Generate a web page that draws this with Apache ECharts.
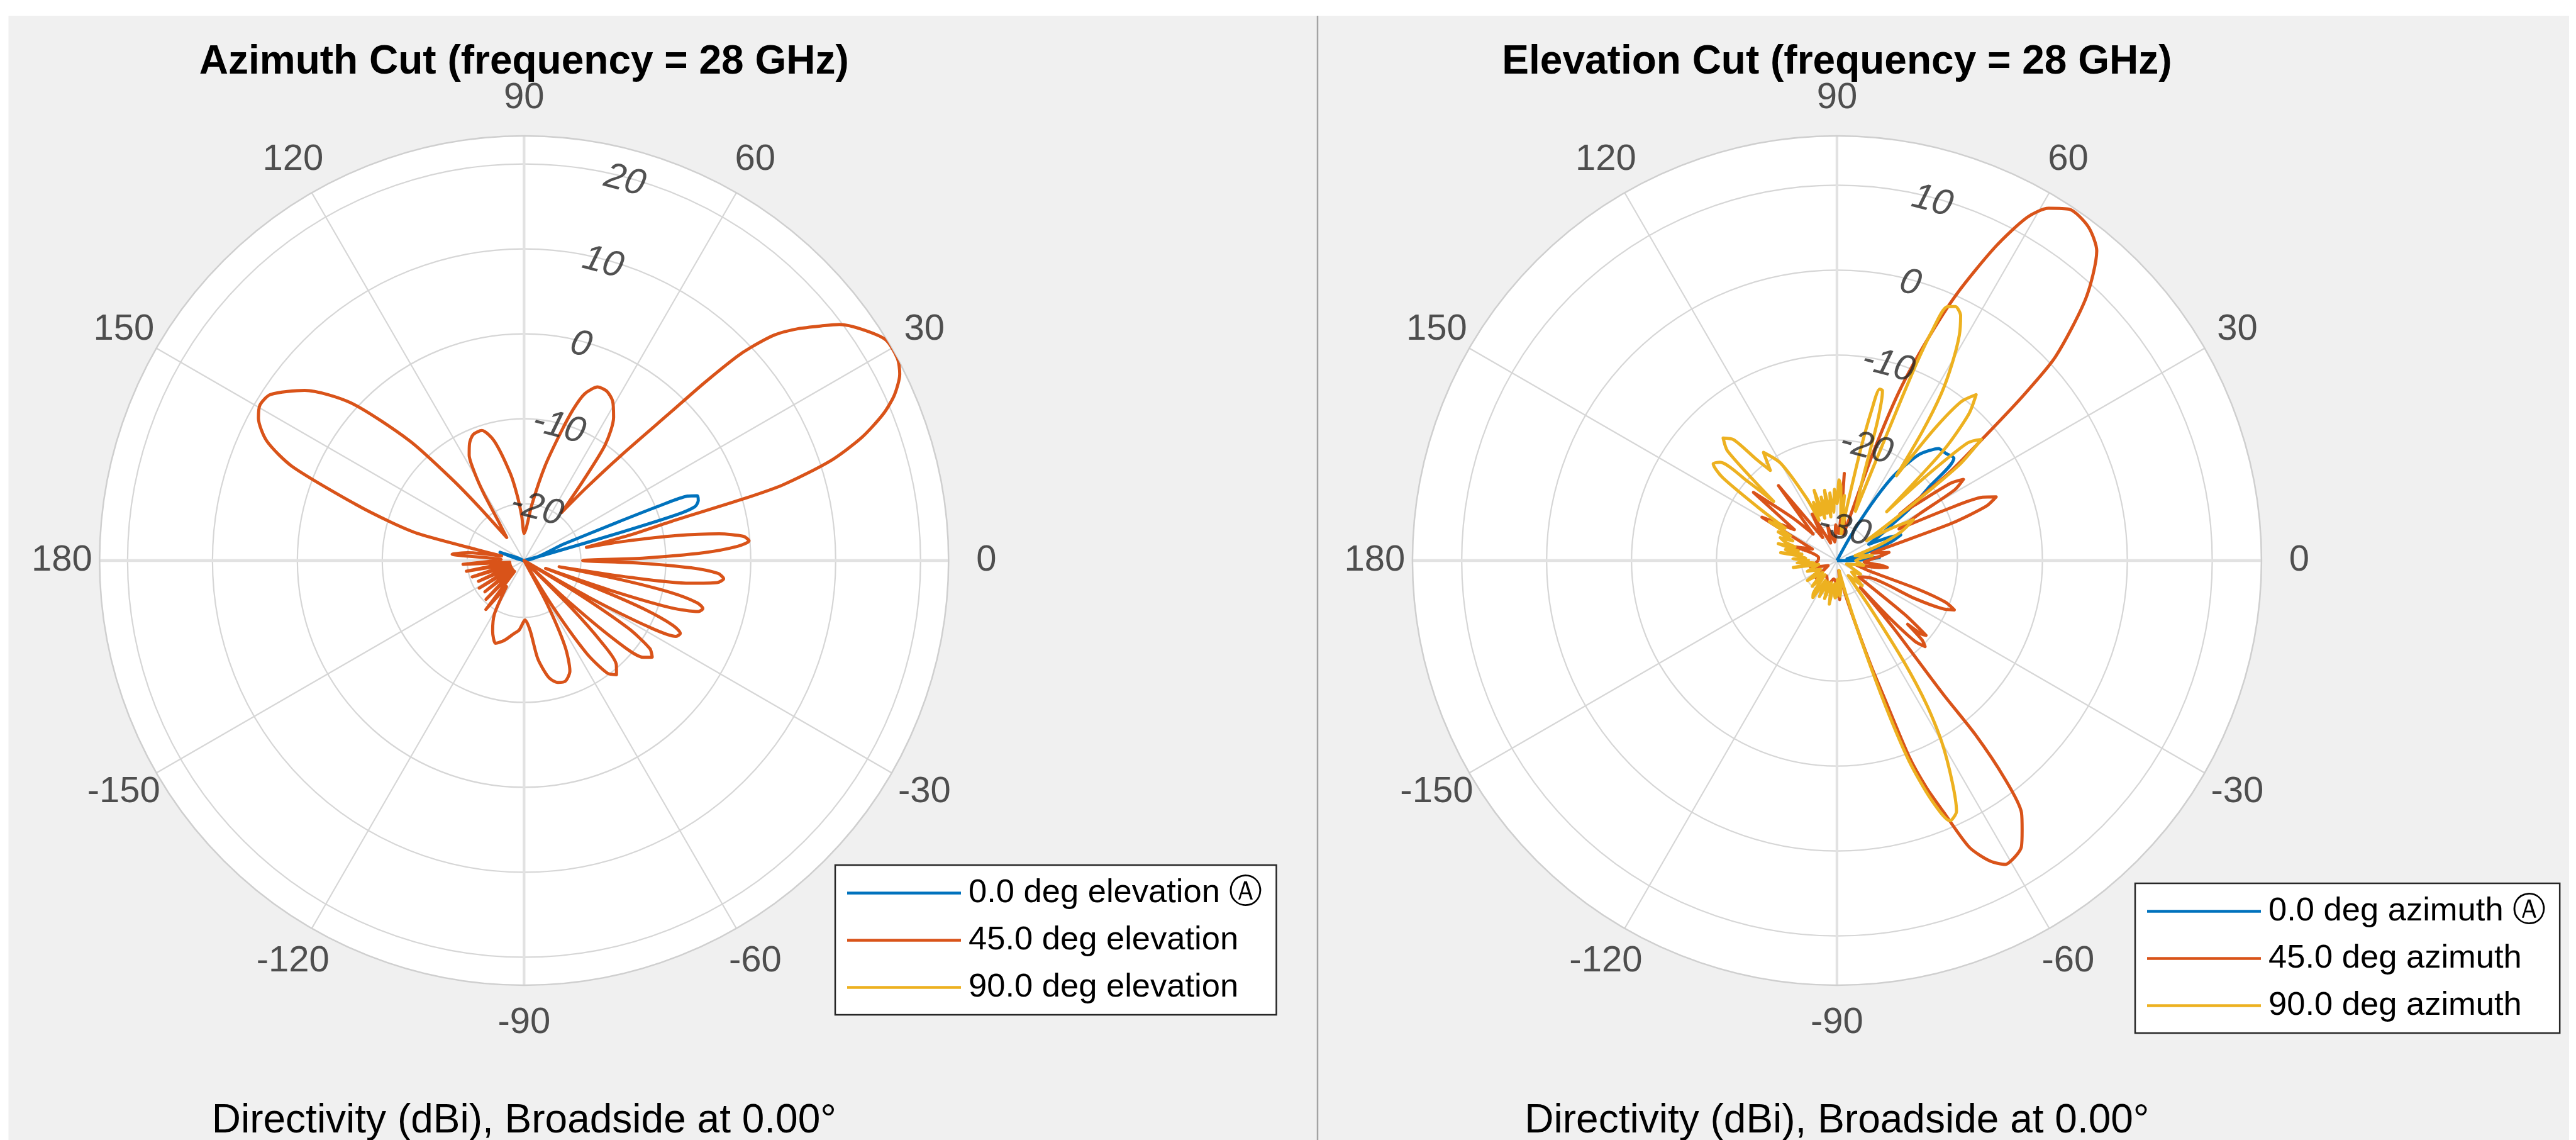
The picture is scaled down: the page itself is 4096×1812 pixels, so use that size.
<!DOCTYPE html>
<html>
<head>
<meta charset="utf-8">
<title>Directivity cuts at 28 GHz</title>
<script src="https://cdn.jsdelivr.net/npm/echarts@6.0.0/dist/echarts.min.js"></script>
<style>
  html, body { margin: 0; padding: 0; background: #ffffff; }
  #chart { width: 4096px; height: 1812px; }
</style>
</head>
<body>
<div id="chart"></div>
<script>
// ---- tick labels -------------------------------------------------------
const angleTicks = [0, 30, 60, 90, 120, 150, 180, -150, -120, -90, -60, -30];
const azRingTicks = [-20, -10, 0, 10, 20];
const elRingTicks = [-30, -20, -10, 0, 10];

// magnitude limits of each plot (dBi)
const azLimits = [-26.7, 23.3];
const elLimits = [-34.2, 15.8];

// ---- series names ------------------------------------------------------
const azNames = ['0.0 deg elevation', '45.0 deg elevation', '90.0 deg elevation'];
const elNames = ['0.0 deg azimuth', '45.0 deg azimuth', '90.0 deg azimuth'];

// ---- azimuth cut: [angle (deg), directivity (dBi)] ----------------------
const az0 = [
  [-180, -30], [-120, -30], [-60, -30], [0, -30], [14, -30], [15.5, -24], [16.2, -15],
  [16.7, -8], [17.5, -5.6], [19, -5.0], [20.5, -4.9], [21.5, -6], [22, -9.5], [22.3, -15],
  [22.6, -21.5], [23.5, -30], [90, -30], [150, -30], [156, -26], [161, -23.7], [166, -26],
  [172, -30], [180, -30]
];
const az45 = [
  [-180, -23.5], [-176.5, -19.5], [-173, -25], [-169.5, -19.8], [-166, -25], [-162.5, -20.3],
  [-159, -25], [-155.5, -20.8], [-152, -25], [-148.5, -20.5], [-145, -25], [-141.5, -20.8],
  [-138, -25], [-134.5, -20.3], [-131, -25], [-128, -19.4], [-124, -23], [-119, -19.5],
  [-114, -17.6], [-109, -16.4], [-104, -17], [-98, -18], [-94, -18.5], [-89, -19.7],
  [-85, -18.4], [-82, -15], [-78, -12.6], [-74.5, -11.8], [-71, -11.7], [-67.5, -12.6],
  [-64.5, -15.5], [-62, -21], [-60, -28],
  [-58, -20], [-56, -13.5], [-53.5, -10.2], [-51, -9.4], [-48.5, -10.3], [-46.5, -13.5], [-45, -19], [-44, -28],
  [-42.5, -19], [-41, -12], [-39, -8.6], [-37, -7.8], [-35, -8.6], [-33, -12], [-31.5, -19], [-30.5, -28],
  [-29.5, -18], [-28, -10], [-26.5, -6.7], [-25, -6.4], [-23.5, -7.6], [-22, -11.5], [-21, -17], [-20, -24],
  [-19, -16], [-17.8, -8.5], [-16.3, -5.3], [-15, -4.9], [-13.7, -5.7], [-12.3, -9], [-11.2, -15], [-10, -22.5],
  [-9, -14], [-7.8, -7], [-6.5, -3.8], [-5.2, -3.1], [-3.8, -3.8], [-2.5, -7], [-1.3, -13], [0, -19.8],
  [1.2, -12.5], [2.5, -5.5], [3.8, -1.5], [5, -0.1], [6.3, -0.7], [7.8, -3.5], [9.3, -8.5], [10.8, -14.5], [12, -19.2],
  [13.5, -14], [14.9, -8.7], [15.7, 0.2], [16.3, 5.1], [18, 11.2], [20, 15.6], [22.2, 19.0], [24.1, 21.1],
  [26.4, 22.7], [28.4, 23.3], [31.4, 23.2], [34.4, 21.5], [36.8, 19.7], [38.2, 18.0], [40.2, 15.6], [42, 13],
  [43.2, 10], [43.8, 7.9], [44.6, 3], [45.3, -2], [47.3, -9.9], [49.5, -15.5], [52, -19.5],
  [53.5, -15], [55, -10], [58, -6.8], [61, -5.2], [64, -4.5], [67, -4.5], [70, -5.8], [72, -8], [74, -11],
  [77.5, -15.3], [82, -20], [86, -22.8], [90, -23.5],
  [93, -21.5], [96, -19], [99, -16.3], [104, -12.2], [108, -10.6], [112, -10.7], [115, -11.5], [117.5, -12.7],
  [119.5, -15], [121, -17.5], [123, -21], [127, -23.3],
  [130, -18.5], [131.5, -14], [133.7, -7.2], [137.7, 0.9], [142.2, 6.0], [146.8, 9.0], [149.5, 9.4], [151.8, 8.8],
  [155.1, 6.7], [157.9, 2.8], [161.5, -5.7], [164, -10.5], [165.8, -14], [167, -21], [168.5, -24],
  [172, -20], [175, -18.2], [177.5, -24], [180, -23.5]
];
const az90 = [[-180, -30], [-90, -30], [0, -30], [90, -30], [180, -30]];

// ---- elevation cut: [angle (deg), directivity (dBi)] --------------------
const el0 = [
  [-180, -36], [-120, -36], [-60, -36], [-10, -36], [0, -33], [2, -31], [4, -29.2], [6, -31],
  [10, -33], [16, -30], [19, -27.5], [21.9, -26.1], [24, -27.5], [27, -30], [30, -28.5],
  [33, -26.6], [36, -23], [38.6, -20.3], [41.2, -15.9], [44.4, -16.2], [47.8, -16.4], [50, -17.3],
  [52.2, -18.4], [54.5, -20.5], [56.6, -22.7], [58.6, -26.4], [61, -31], [65, -36], [120, -36], [180, -36]
];
const el45 = [
  [-180, -32], [-165, -31], [-150, -33], [-140, -31], [-125, -32], [-110, -31], [-100, -32],
  [-88, -31], [-86, -29.6], [-84, -31], [-80, -33], [-76, -30],
  [-73.5, -26], [-72, -21], [-71, -17.3], [-69.8, -9.6], [-68.5, -5.5], [-67, -2], [-65.2, 3],
  [-63, 5.5], [-61, 6.7], [-59, 6.5], [-57.2, 5.9], [-55.5, 4.3], [-53.8, 2.6], [-52.4, -1.9],
  [-51.5, -8], [-51.5, -14], [-51, -19], [-50, -24], [-49, -30],
  [-47.5, -25], [-46, -21], [-44.3, -19.7], [-43, -20.5], [-42, -23], [-41, -21], [-40, -20.5],
  [-38.5, -24], [-37, -31],
  [-28, -30], [-26, -24], [-24.5, -20.5], [-22.8, -19.2], [-21, -20.5], [-19.5, -24], [-18, -30],
  [-12, -32], [-9, -29], [-7.7, -28.2], [-6, -29], [-3, -31], [0, -30.5], [3, -30], [6, -29],
  [9, -28], [12, -30],
  [15, -28], [18, -20], [20, -15.5], [21.8, -14.0], [23.5, -15.5], [25, -20], [27, -26],
  [29.5, -23], [31, -18], [32.7, -16.5], [34.2, -18], [35.5, -23], [36.5, -25],
  [38, -17.5], [40, -11.5], [41.5, -5], [43, 1], [46.5, 8.4], [50, 13.4], [53, 15], [56.5, 15.4],
  [59, 14.2], [61, 12], [63.2, 7.2], [65.8, 0.2], [67.8, -6.3], [69.8, -13], [71.5, -21], [73, -28],
  [76, -31], [80, -29], [83, -31], [85.2, -23.9], [87, -31], [92, -30], [97, -32],
  [105, -30], [110, -32], [118, -28], [122, -31], [128, -23], [132, -30], [136, -27], [140.8, -21.5],
  [144, -28], [150, -24], [155, -31], [162, -29], [170, -32], [180, -32]
];
const el90 = [
  [-180, -31], [-177, -29.5], [-174, -31.5], [-171, -29], [-168, -32], [-160, -30.5], [-152, -32],
  [-146, -30], [-140, -32], [-134, -30], [-130, -32], [-126, -29.5], [-123, -29], [-120, -31.5],
  [-116, -29.5], [-112, -31.5], [-108, -29.5], [-104, -31.5], [-100, -29], [-96, -31.5],
  [-93, -29.8], [-90.5, -30], [-88, -32], [-85, -30], [-82, -31], [-78, -33],
  [-75, -30], [-73, -24], [-71.5, -16], [-70.2, -9.1], [-68.5, -4], [-66.5, -0.8], [-64.5, -1.5],
  [-62.5, -4.8], [-60, -9.5], [-58.1, -14.2], [-56.5, -20], [-55, -27], [-53, -32],
  [-45, -30], [-38, -32], [-30, -31], [-20, -33], [-10, -31], [0, -32], [8, -30], [15, -32],
  [20, -29], [24, -26], [28, -24], [31, -27], [34, -30],
  [36, -25], [38, -16], [40, -12], [42, -13.5], [43.5, -20], [44.5, -26],
  [46, -16], [48, -11], [50, -8.7], [52, -10.5], [53.5, -15], [55, -22],
  [56.5, -16], [58, -11], [59.7, -7.3], [61.5, -4], [63.2, -1.9], [65, -1.2], [66.5, -1.6],
  [67.5, -5], [68, -9], [68.3, -15], [68.7, -22], [69.5, -28],
  [72.5, -24], [73.8, -17], [75, -13.5], [76, -13.4], [77, -16], [78, -21], [79.5, -28],
  [81, -31], [83.5, -26.5], [85, -29], [87, -25.5], [88.5, -24.7], [90, -27.5], [92, -25.8],
  [94, -28.5], [96, -26.2], [98, -29], [100, -25.8], [102, -28.5], [104, -26.5], [106, -29],
  [108, -25.5], [110, -28.5], [112, -26.8], [114, -29],
  [116, -26], [120, -21], [124.2, -18.8], [126.5, -21], [128.5, -19], [130.5, -15.5], [132.9, -14.5],
  [135, -16], [137, -24], [138.5, -20], [140, -16.2], [142, -15.7], [144, -17.5], [146, -23],
  [148, -27], [150, -25], [152, -28], [154, -26.5], [156, -28.5], [158, -27], [160, -27.6],
  [162, -29], [164, -27], [166, -29.5], [168, -28], [170, -30], [172, -27.5], [175, -30.5],
  [178, -29], [180, -31]
];

// ---- drawing -------------------------------------------------------------
const FONT = '"Liberation Sans", Arial, Helvetica, sans-serif';
const COLORS = ['#0072BD', '#D95319', '#EDB120'];
const CY = 891;          // vertical centre of both polar plots
const R = 675;           // outer radius of the magnitude range
const LABEL_R = 735;     // radius at which angle labels sit
const TEXT = '#262626';
const GRID = '#d6d6d6';

const panels = [
  { cx: 833.3, title: 'Azimuth Cut (frequency = 28 GHz)', limits: azLimits, rings: azRingTicks,
    names: azNames, data: [az0, az45, az90], legendPos: { left: 1328, top: 1375 } },
  { cx: 2920.9, title: 'Elevation Cut (frequency = 28 GHz)', limits: elLimits, rings: elRingTicks,
    names: elNames, data: [el0, el45, el90], legendPos: { left: 3395, top: 1404 } }
];

const polar = [], angleAxis = [], radiusAxis = [], series = [], legend = [], title = [];

function angleBase(idx) {
  return { polarIndex: idx, type: 'value', min: -180, max: 180, startAngle: 180, clockwise: false,
           axisLine: { show: false }, axisTick: { show: false }, axisLabel: { show: false },
           splitLine: { show: false }, splitArea: { show: false } };
}

panels.forEach((p, k) => {
  const base = k * 5;
  const iBg = base, iCross = base + 1, iRing = base + 2, iData = base + 3, iLab = base + 4;
  const span = p.limits[1] - p.limits[0];
  const ringIn = (p.rings[0] - p.limits[0]) / span * R;
  const ringOut = (p.rings[p.rings.length - 1] - p.limits[0]) / span * R;
  const center = [p.cx, CY];

  polar.push({ center, radius: R });                 // white disc
  polar.push({ center, radius: R });                 // 0/90 axes
  polar.push({ center, radius: [ringIn, ringOut] }); // magnitude rings
  polar.push({ center, radius: R });                 // data + spokes
  polar.push({ center, radius: LABEL_R });           // angle labels

  // white plotting disc
  angleAxis.push(Object.assign(angleBase(iBg), { z: 0,
    splitArea: { show: true, areaStyle: { color: ['#ffffff'] } } }));
  radiusAxis.push({ polarIndex: iBg, type: 'value', min: 0, max: 1, show: false });

  // heavier 0-180 and 90/-90 axes
  angleAxis.push(Object.assign(angleBase(iCross), { z: 1, interval: 90,
    splitLine: { show: true, lineStyle: { color: '#e2e2e2', width: 4.3 } } }));
  radiusAxis.push({ polarIndex: iCross, type: 'value', min: 0, max: 1, show: false });

  // rings every 10 dB
  angleAxis.push(Object.assign(angleBase(iRing), { show: false }));
  radiusAxis.push({ polarIndex: iRing, type: 'value', z: 1,
    min: p.rings[0], max: p.rings[p.rings.length - 1], interval: 10,
    axisLine: { show: false }, axisTick: { show: false }, axisLabel: { show: false },
    splitLine: { show: true, lineStyle: { color: GRID, width: 2.2 } } });

  // data polar: 30 degree spokes + outer boundary
  angleAxis.push(Object.assign(angleBase(iData), { z: 2, interval: 30,
    axisLine: { show: true, lineStyle: { color: '#cfcfcf', width: 2.5 } },
    splitLine: { show: true, lineStyle: { color: ['rgba(0,0,0,0)', GRID, GRID], width: 2.2 } } }));
  radiusAxis.push({ polarIndex: iData, type: 'value', min: p.limits[0], max: p.limits[1], show: false });

  // angle label ring
  angleAxis.push(Object.assign(angleBase(iLab), { show: false }));
  radiusAxis.push({ polarIndex: iLab, type: 'value', min: 0, max: 1, show: false });

  // pattern lines
  p.data.forEach((arr, j) => {
    series.push({
      type: 'line', name: p.names[j], coordinateSystem: 'polar', polarIndex: iData,
      data: arr.map(([a, v]) => [Math.max(v, p.limits[0]), a]),
      smooth: 0.25, showSymbol: false, symbol: 'none', silent: true, z: 3 + j, clip: false,
      lineStyle: { color: COLORS[j], width: 5, join: 'round' }, itemStyle: { color: COLORS[j] }
    });
  });

  // angle tick labels
  series.push({
    type: 'scatter', coordinateSystem: 'polar', polarIndex: iLab, silent: true, clip: false, z: 10,
    data: angleTicks.map(a => [1, a]), symbolSize: 1, itemStyle: { color: 'rgba(0,0,0,0)' },
    label: { show: true, position: 'inside', formatter: (q) => String(q.value[1]),
      color: TEXT, fontSize: 58, fontFamily: FONT, textBorderWidth: 0 }
  });

  // magnitude tick labels, set along the 75 degree direction
  series.push({
    type: 'scatter', coordinateSystem: 'polar', polarIndex: iData, silent: true, clip: false, z: 10,
    data: p.rings.map(t => [t, 75]), symbolSize: 1, itemStyle: { color: 'rgba(0,0,0,0)' },
    label: { show: true, position: 'inside', rotate: -15, offset: [-1.6, 5.8],
      formatter: (q) => String(q.value[0]),
      color: TEXT, fontSize: 58, fontStyle: 'italic', fontFamily: FONT, textBorderWidth: 0 }
  });

  legend.push({
    data: p.names, orient: 'vertical', left: p.legendPos.left, top: p.legendPos.top,
    backgroundColor: '#ffffff', borderColor: '#262626', borderWidth: 2.5, borderRadius: 0,
    padding: [18, 22, 17, 19], itemGap: 22, itemWidth: 181, itemHeight: 4.5, icon: 'rect',
    selectedMode: false,
    textStyle: { fontSize: 52.5, lineHeight: 52, color: '#000000', fontFamily: FONT, padding: [0, 0, 0, 7] },
    formatter: (name) => name === p.names[0] ? name + ' \u24B6' : name
  });

  title.push({
    text: p.title, left: p.cx, top: 67, textAlign: 'center', padding: 0,
    textStyle: { fontSize: 64, fontWeight: 'bold', color: '#000000', fontFamily: FONT }
  });
  title.push({
    text: 'Directivity (dBi), Broadside at 0.00\u00B0', left: p.cx, top: 1750, textAlign: 'center', padding: 0,
    textStyle: { fontSize: 64, fontWeight: 'normal', color: '#000000', fontFamily: FONT }
  });
});

const chart = echarts.init(document.getElementById('chart'), null, { renderer: 'canvas' });
chart.setOption({
  animation: false,
  backgroundColor: '#ffffff',
  graphic: [
    { type: 'rect', z: -10, silent: true, shape: { x: 13.5, y: 25, width: 4071.5, height: 1787 },
      style: { fill: '#f0f0f0' } },
    { type: 'line', z: -9, silent: true, shape: { x1: 2095, y1: 25, x2: 2095, y2: 1812 },
      style: { stroke: '#a3a3a3', lineWidth: 2.5 } }
  ],
  title, legend, polar, angleAxis, radiusAxis, series
});
</script>
</body>
</html>
